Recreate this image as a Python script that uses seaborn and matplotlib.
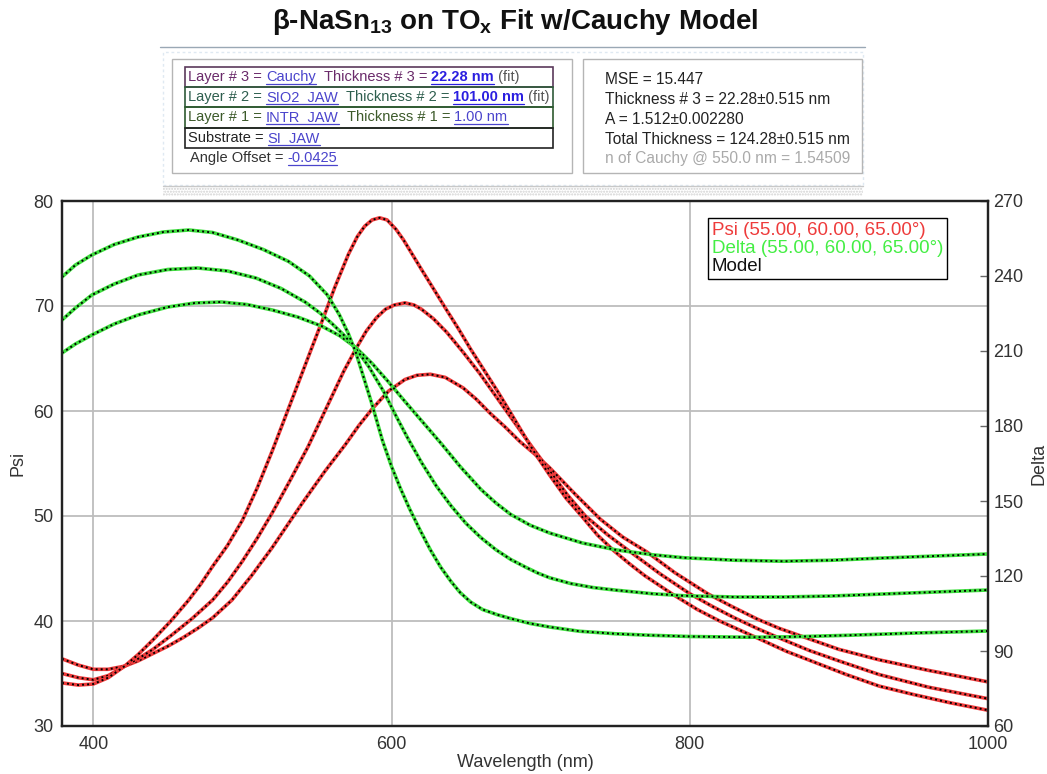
import matplotlib
matplotlib.use("Agg")
import matplotlib.pyplot as plt
import seaborn as sns
from matplotlib.lines import Line2D
from matplotlib.patches import Rectangle

# ---------------- data ----------------
wl_psi65 = [379, 390, 400, 410, 421, 430, 440, 452, 464, 472, 480, 490, 500, 510, 520, 530, 540, 547, 553, 562, 571, 577, 582, 587, 592, 597, 603, 608, 614, 620, 627, 637, 645, 653, 662, 671, 680, 688, 697, 706, 717, 728, 738, 749, 760, 770, 789, 805, 820, 845, 865, 885, 905, 927, 950, 975, 1000]
psi65 = [34.1, 33.9, 34.0, 34.6, 35.7, 36.8, 38.2, 40.0, 42.0, 43.5, 45.2, 47.2, 49.6, 52.7, 56.2, 59.9, 63.6, 66.2, 68.4, 71.8, 74.9, 76.6, 77.6, 78.2, 78.4, 78.2, 77.3, 76.3, 74.9, 73.5, 71.9, 69.6, 67.8, 65.9, 63.9, 61.9, 59.8, 57.9, 55.8, 53.9, 51.7, 49.9, 48.2, 46.7, 45.4, 44.3, 42.5, 41.1, 40.0, 38.4, 37.1, 36.0, 34.9, 33.8, 33.0, 32.2, 31.5]

wl_psi60 = [379, 390, 400, 410, 421, 430, 440, 452, 466, 480, 490, 500, 510, 520, 532, 544, 552, 560, 568, 576, 583, 590, 596, 602, 609, 615, 620, 628, 637, 648, 659, 668, 677, 684, 691, 706, 718, 730, 745, 760, 780, 800, 815, 830, 845, 858, 880, 900, 927, 960, 1000]
psi60 = [35.0, 34.6, 34.4, 34.8, 35.7, 36.4, 37.3, 38.6, 40.2, 42.0, 43.7, 45.7, 47.9, 50.3, 53.4, 56.6, 59.0, 61.4, 63.8, 65.9, 67.6, 68.9, 69.7, 70.1, 70.3, 70.1, 69.7, 68.8, 67.5, 65.6, 63.6, 61.8, 60.0, 58.6, 57.2, 54.3, 52.0, 50.0, 48.2, 46.6, 44.5, 42.6, 41.4, 40.3, 39.3, 38.5, 37.2, 36.2, 34.9, 33.7, 32.6]

wl_psi55 = [379, 390, 400, 410, 421, 430, 440, 450, 460, 470, 480, 493, 506, 520, 530, 540, 555, 569, 578, 587, 598, 609, 617, 626, 636, 648, 657, 666, 676, 686, 696, 706, 723, 740, 755, 771, 790, 812, 828, 845, 860, 876, 900, 927, 960, 1000]
psi55 = [36.4, 35.8, 35.4, 35.4, 35.7, 36.2, 36.9, 37.6, 38.4, 39.3, 40.3, 42.0, 44.3, 47.0, 49.1, 51.2, 54.2, 56.8, 58.6, 60.2, 61.9, 63.0, 63.4, 63.5, 63.2, 62.2, 61.1, 59.8, 58.5, 57.1, 55.9, 54.6, 52.1, 49.7, 48.0, 46.6, 44.6, 42.6, 41.4, 40.2, 39.3, 38.5, 37.3, 36.3, 35.3, 34.2]

wl_d65 = [379, 388, 399, 414, 430, 447, 464, 480, 497, 514, 531, 545, 557, 565, 571, 576, 581, 587, 594, 600, 606, 612, 619, 626, 633, 640, 646, 653, 661, 671, 681, 693, 706, 726, 750, 773, 800, 840, 870, 907, 952, 1000]
d65 = [239.6, 244.4, 248.4, 252.6, 255.6, 257.6, 258.4, 257.4, 254.4, 250.6, 245.8, 240.0, 232.4, 224.5, 217.0, 209.5, 200.0, 188.5, 174.0, 163.8, 155.0, 147.0, 138.5, 130.5, 123.5, 117.7, 113.4, 109.6, 106.6, 104.5, 102.8, 101.0, 99.6, 97.9, 96.9, 96.3, 95.8, 95.5, 95.7, 96.3, 97.2, 98.0]

wl_d60 = [379, 388, 399, 414, 430, 450, 470, 490, 509, 526, 542, 552, 560, 568, 576, 585, 595, 603, 611, 620, 630, 640, 650, 660, 670, 680, 690, 698, 706, 720, 735, 751, 775, 796, 830, 863, 895, 930, 965, 1000]
d60 = [222.4, 227.2, 232.4, 236.8, 240.4, 242.6, 243.2, 242.0, 239.2, 235.0, 229.6, 225.2, 221.0, 216.4, 211.0, 203.5, 193.5, 184.0, 175.0, 165.5, 156.0, 148.0, 141.0, 135.3, 130.5, 126.6, 123.5, 121.2, 119.3, 117.0, 115.4, 114.3, 112.9, 112.1, 111.6, 111.6, 112.0, 112.8, 113.6, 114.4]

wl_d55 = [379, 388, 399, 414, 430, 450, 468, 486, 503, 520, 537, 553, 565, 576, 587, 598, 609, 621, 633, 646, 660, 670, 680, 693, 706, 728, 751, 775, 796, 830, 863, 895, 930, 965, 1000]
d55 = [209.2, 212.8, 216.4, 220.8, 224.4, 227.6, 229.2, 229.6, 228.6, 226.4, 223.6, 220.0, 216.2, 211.4, 205.0, 197.6, 189.8, 181.5, 173.2, 163.8, 154.6, 149.2, 144.6, 140.3, 137.2, 133.2, 130.4, 128.5, 127.3, 126.3, 125.9, 126.3, 127.2, 128.0, 128.8]

x_ticks = [400, 600, 800, 1000]
psi_ticks = [30, 40, 50, 60, 70, 80]
delta_ticks = [60, 90, 120, 150, 180, 210, 240, 270]
legend_labels = ["Psi (55.00, 60.00, 65.00\u00b0)", "Delta (55.00, 60.00, 65.00\u00b0)", "Model"]

# ---------------- style ----------------
sns.set_theme(style="white")
plt.rcParams["font.family"] = ["Liberation Sans", "DejaVu Sans"]
plt.rcParams["mathtext.fontset"] = "custom"
plt.rcParams["mathtext.rm"] = "Liberation Sans"
plt.rcParams["mathtext.bf"] = "Liberation Sans:bold"

PSI_C = "#ee3b3b"
DEL_C = "#3fe03f"
W, H = 1047, 774
fig = plt.figure(figsize=(W / 100, H / 100), dpi=100)
fig.patch.set_facecolor("white")


def fx(x):
    return x / W


def fy(y):
    return 1 - y / H


ax = fig.add_axes([fx(62), fy(726), fx(988) - fx(62), fy(201) - fy(726)])
ax2 = ax.twinx()

# ---------------- curves ----------------
DOT = (0, (1, 1.6))
for wl, v in [(wl_psi55, psi55), (wl_psi60, psi60), (wl_psi65, psi65)]:
    sns.lineplot(x=wl, y=v, ax=ax, color=PSI_C, lw=2.6, estimator=None)
    sns.lineplot(x=wl, y=v, ax=ax, color="black", lw=1.4, ls=DOT, estimator=None)
for wl, v in [(wl_d55, d55), (wl_d60, d60), (wl_d65, d65)]:
    sns.lineplot(x=wl, y=v, ax=ax2, color=DEL_C, lw=2.6, estimator=None)
    sns.lineplot(x=wl, y=v, ax=ax2, color="black", lw=1.4, ls=DOT, estimator=None)

# ---------------- axes ----------------
ax.set_xlim(379, 1000)
ax.set_ylim(30, 80)
ax2.set_ylim(60, 270)
ax.set_xticks(x_ticks)
ax.set_yticks(psi_ticks)
ax2.set_yticks(delta_ticks)
ax.grid(True, color="#bdbdbd", lw=1.3)
ax.set_axisbelow(True)
ax2.grid(False)
ax.tick_params(axis="both", length=0, labelsize=13, labelcolor="#333333")
ax.tick_params(axis="x", pad=7)
ax.tick_params(axis="y", pad=6)
ax2.tick_params(axis="y", direction="in", length=6, width=1, color="#666666",
                labelsize=13, labelcolor="#333333", pad=4, right=True)
ax.set_xlabel("Wavelength (nm)", fontsize=13, color="#333333", labelpad=1)
ax.set_ylabel("Psi", fontsize=13, color="#333333", labelpad=5)
ax2.set_ylabel("Delta", fontsize=13, color="#333333", labelpad=5)
for a in (ax, ax2):
    for s in a.spines.values():
        s.set_color("#222222")
        s.set_linewidth(1.6)

leg_handles = [Line2D([], [], lw=0) for _ in legend_labels]
leg = ax2.legend(leg_handles, legend_labels, loc="upper left",
                 bbox_to_anchor=((708 - 62) / 926, (726 - 218) / 525),
                 handlelength=0, handletextpad=0, fontsize=13.5,
                 labelcolor=[PSI_C, "#44ee44", "#111111"], frameon=True,
                 fancybox=False, edgecolor="black", framealpha=1,
                 borderpad=0.2, labelspacing=0.05, borderaxespad=0)
leg.get_frame().set_linewidth(1.0)

# ---------------- title ----------------
fig.text(fx(515), fy(22), r"β-NaSn$_\mathbf{13}$ on TO$_\mathbf{x}$ Fit w/Cauchy Model",
         ha="center", va="center", fontsize=20, fontweight="bold", color="#111111")

# ---------------- header panels ----------------
fig.add_artist(Line2D([fx(160), fx(865)], [fy(47), fy(47)], color="#9aa8b5", lw=1))
fig.add_artist(Rectangle((fx(163), fy(185)), fx(863) - fx(163), fy(52) - fy(185),
                         fill=False, edgecolor="#dfe9f2", lw=1, ls=(0, (2, 2))))
fig.add_artist(Rectangle((fx(172), fy(173)), fx(572) - fx(172), fy(59) - fy(173),
                         fill=False, edgecolor="#b5b5b5", lw=1))
fig.add_artist(Rectangle((fx(583), fy(173)), fx(862) - fx(583), fy(59) - fy(173),
                         fill=False, edgecolor="#b5b5b5", lw=1))
fig.add_artist(Rectangle((fx(163), fy(196)), fx(863) - fx(163), fy(186) - fy(196),
                         facecolor="white", edgecolor="#d0d0d0", hatch="......", lw=0))
fig.add_artist(Line2D([fx(163), fx(863)], [fy(186), fy(186)], color="#c8c8c8", lw=1))

row_edges = [67, 87, 107, 128, 148]
row_colors = ["#5b3a5b", "#2f5a3a", "#2f5a2f", "#222222"]
for i in range(4):
    fig.add_artist(Rectangle((fx(185), fy(row_edges[i + 1])), fx(553) - fx(185),
                             fy(row_edges[i]) - fy(row_edges[i + 1]),
                             fill=False, edgecolor=row_colors[i], lw=1.2))

renderer = fig.canvas.get_renderer()
LINK = "#4a44cc"
BOLDV = "#2a1ee0"


def seg_line(x0, y, segs, size=10.5):
    x = x0
    for s, color, bold, link in segs:
        t = fig.text(fx(x), fy(y), s, color=color, fontsize=size,
                     fontweight="bold" if bold else "normal", va="center", ha="left")
        w = t.get_window_extent(renderer).width
        if link:
            fig.add_artist(Line2D([fx(x), fx(x + w)], [fy(y + 7), fy(y + 7)], color=color, lw=0.9))
        x += w


P1, P2, P3 = "#6a2a6a", "#2e5e4e", "#3c5a2a"
seg_line(188, 77, [("Layer # 3 = ", P1, False, False), ("Cauchy", LINK, False, True),
                   ("  Thickness # 3 = ", P1, False, False), ("22.28 nm", BOLDV, True, True),
                   (" (fit)", "#555555", False, False)])
seg_line(188, 97, [("Layer # 2 = ", P2, False, False), ("SIO2_JAW", LINK, False, True),
                   ("  Thickness # 2 = ", P2, False, False), ("101.00 nm", BOLDV, True, True),
                   (" (fit)", "#555555", False, False)])
seg_line(188, 117, [("Layer # 1 = ", P3, False, False), ("INTR_JAW", LINK, False, True),
                    ("  Thickness # 1 = ", P3, False, False), ("1.00 nm", LINK, False, True)])
seg_line(188, 138, [("Substrate = ", "#222222", False, False), ("SI_JAW", LINK, False, True)])
seg_line(190, 158, [("Angle Offset = ", "#333333", False, False), ("-0.0425", LINK, False, True)])

right_lines = [("MSE = 15.447", "#222222"),
               ("Thickness # 3 = 22.28\u00b10.515 nm", "#222222"),
               ("A = 1.512\u00b10.002280", "#222222"),
               ("Total Thickness = 124.28\u00b10.515 nm", "#222222"),
               ("n of Cauchy @ 550.0 nm = 1.54509", "#aaaaaa")]
for (txt, c), yy in zip(right_lines, [79, 100, 119, 139, 158]):
    fig.text(fx(605), fy(yy), txt, color=c, fontsize=11.2, va="center", ha="left")

fig.savefig("out.png", dpi=100, facecolor="white")
